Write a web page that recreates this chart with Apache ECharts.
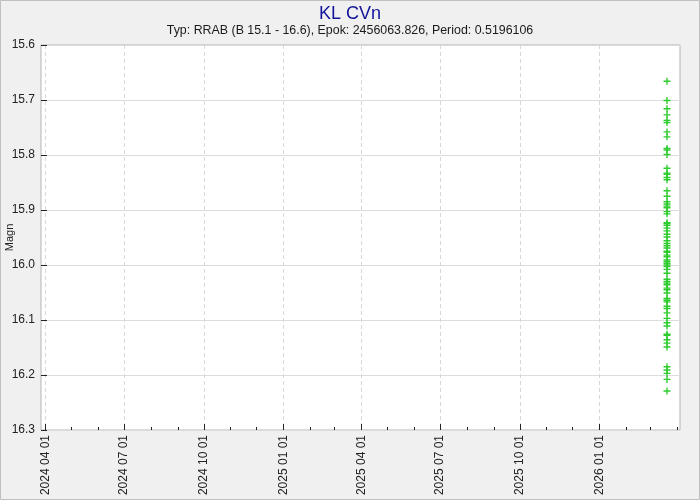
<!DOCTYPE html>
<html>
<head>
<meta charset="utf-8">
<script src="https://cdn.jsdelivr.net/npm/echarts@6/dist/echarts.min.js"></script>
<style>
html,body{margin:0;padding:0;background:#f0f0f0;}
#c{width:700px;height:500px;}
</style>
</head>
<body>
<div id="c"></div>
<script>
// ---- data ----
const titleText = 'KL CVn';
const subtitleText = 'Typ: RRAB (B 15.1 - 16.6), Epok: 2456063.826, Period: 0.5196106';
const xAxisMin = '2024-03-27';
const xAxisMax = '2026-04-04';
const majorTickDates = ['2024-04-01','2024-07-01','2024-10-01','2025-01-01','2025-04-01','2025-07-01','2025-10-01','2026-01-01'];
const minorTickDates = ['2024-04-01','2024-05-01','2024-06-01','2024-07-01','2024-08-01','2024-09-01','2024-10-01','2024-11-01','2024-12-01',
  '2025-01-01','2025-02-01','2025-03-01','2025-04-01','2025-05-01','2025-06-01','2025-07-01','2025-08-01','2025-09-01','2025-10-01',
  '2025-11-01','2025-12-01','2026-01-01','2026-02-01','2026-03-01','2026-04-01'];
const yTicks = [15.6, 15.7, 15.8, 15.9, 16.0, 16.1, 16.2, 16.3];
const obsDate = '2026-03-20';
const magnitudes = [
  15.666, 15.701, 15.716, 15.727, 15.737, 15.741, 15.758, 15.767, 15.788, 15.791,
  15.799, 15.824, 15.833, 15.835, 15.841, 15.845, 15.865, 15.875, 15.885, 15.889,
  15.893, 15.896, 15.903, 15.907, 15.923, 15.925, 15.928, 15.933, 15.938, 15.944,
  15.949, 15.956, 15.961, 15.965, 15.969, 15.975, 15.977, 15.982, 15.985, 15.991,
  15.994, 15.997, 16.000, 16.003, 16.008, 16.015, 16.026, 16.030, 16.033, 16.036,
  16.042, 16.045, 16.051, 16.061, 16.064, 16.067, 16.075, 16.079, 16.087, 16.097,
  16.105, 16.111, 16.126, 16.128, 16.136, 16.142, 16.149, 16.185, 16.191, 16.197,
  16.208, 16.229
];
// ---- chart ----
const t = s => Date.parse(s);
const pad = n => (n < 10 ? '0' : '') + n;
const fmt = v => { const d = new Date(v); return d.getUTCFullYear() + ' ' + pad(d.getUTCMonth() + 1) + ' ' + pad(d.getUTCDate()); };
const FONT = '"Liberation Sans", Arial, sans-serif';
const chart = echarts.init(document.getElementById('c'));
chart.setOption({
  backgroundColor: '#f0f0f0',
  animation: false,
  title: {
    text: titleText, subtext: subtitleText, left: 'center', top: 0, itemGap: 2,
    textStyle: { fontFamily: FONT, fontSize: 18, fontWeight: 'normal', color: '#12129a' },
    subtextStyle: { fontFamily: FONT, fontSize: 12.4, color: '#1a1a1a' }
  },
  graphic: [{ type: 'rect', shape: { x: 0.5, y: 0.5, width: 699, height: 499 }, style: { fill: 'none', stroke: '#c0c0c0', lineWidth: 1 }, silent: true }],
  grid: { left: 41, right: 20, top: 45, bottom: 70, containLabel: false, outerBoundsMode: 'none', show: true, backgroundColor: '#ffffff', borderColor: '#b4b4b4', borderWidth: 1 },
  xAxis: [{
    type: 'value', min: t(xAxisMin), max: t(xAxisMax), position: 'bottom',
    axisLine: { show: false },
    axisTick: { show: true, inside: true, length: 6, lineStyle: { color: '#222' }, customValues: majorTickDates.map(t) },
    axisLabel: { show: true, rotate: 90, margin: 5, fontFamily: FONT, fontSize: 12, color: '#222', formatter: v => fmt(v), customValues: majorTickDates.map(t) },
    splitLine: { show: true, lineStyle: { color: '#d8d8d8', type: [4, 3] } }
  }, {
    type: 'value', min: t(xAxisMin), max: t(xAxisMax), position: 'bottom',
    axisLine: { show: false },
    axisTick: { show: true, inside: true, length: 3, lineStyle: { color: '#222' }, customValues: minorTickDates.map(t) },
    axisLabel: { show: false },
    splitLine: { show: false }
  }],
  yAxis: {
    type: 'value', inverse: true, min: 15.6, max: 16.3, interval: 0.1,
    name: 'Magn', nameLocation: 'middle', nameGap: 26, nameRotate: 90, nameMoveOverlap: false,
    nameTextStyle: { fontFamily: FONT, fontSize: 11, color: '#222' },
    axisLine: { show: false },
    axisTick: { show: true, inside: true, length: 6, lineStyle: { color: '#222' }, customValues: yTicks },
    axisLabel: { fontFamily: FONT, fontSize: 12, color: '#222', margin: 6, formatter: v => v.toFixed(1), customValues: yTicks },
    splitLine: { show: true, lineStyle: { color: '#dcdcdc', type: 'solid' } }
  },
  series: [{
    type: 'scatter', xAxisIndex: 0,
    symbol: 'path://M2.9,0H4.3V7.2H2.9Z M0,2.9H7.2V4.3H0Z', symbolSize: 7,
    itemStyle: { color: '#2ecc2e', opacity: 1 },
    data: magnitudes.map(m => [t(obsDate), m])
  }]
});
</script>
</body>
</html>
